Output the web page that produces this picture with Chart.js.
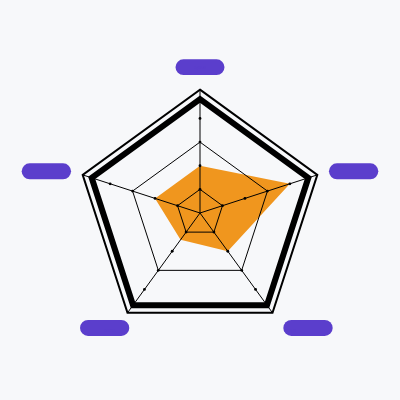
<!DOCTYPE html>
<html>
<head>
<meta charset="utf-8">
<script src="https://cdn.jsdelivr.net/npm/chart.js@4"></script>
<style>
  html, body { margin: 0; padding: 0; background: #f7f8fa; }
  #chart { display: block; }
</style>
</head>
<body>
<canvas id="chart" width="400" height="400"></canvas>
<script>
// axis names (hidden under the pills) and the one series
const labels = ['Speed', 'Power', 'Range', 'Skill', 'Armor'];
const values = [2, 4, 2, 1.4, 2];

// radial levels: rings, plus the dots along each spoke
const ringLevels = [0, 1, 2, 3, 4, 4.82, 5.22];
const dotLevels = [1, 2, 3, 4];

// ring widths, one per ring level (0 = not drawn)
const ringWidths = [0, 1, 0, 1, 0, 6, 2];

// backdrop padding per label, puts each pill where the reference has it
const pillPadding = [
  {top: 5.9, bottom: 5.0, left: 18.5, right: 18.5},
  {top: 0.7, bottom: 10.5, left: 7, right: 30.3},
  {top: 8.7, bottom: 2.5, left: 0.7, right: 36.6},
  {top: 8.7, bottom: 2.5, left: 23.9, right: 13.3},
  {top: 0.7, bottom: 10.5, left: 30.3, right: 7}
];

const PURPLE = '#5b3ecc';
const ORANGE = 'rgb(240, 150, 30)';
const INK = '#000';

const spokeDots = {
  id: 'spokeDots',
  afterDraw(chart) {
    const scale = chart.scales.r;
    const ctx = chart.ctx;
    ctx.save();
    ctx.fillStyle = INK;
    labels.forEach((_, i) => {
      dotLevels.forEach(v => {
        const p = scale.getPointPositionForValue(i, v);
        ctx.beginPath();
        ctx.arc(p.x, p.y, 1.4, 0, Math.PI * 2);
        ctx.fill();
      });
    });
    ctx.restore();
  }
};

new Chart(document.getElementById('chart').getContext('2d'), {
  type: 'radar',
  data: {
    labels,
    datasets: [{
      data: values,
      backgroundColor: ORANGE,
      borderWidth: 0,
      pointRadius: 0,
      fill: true
    }]
  },
  options: {
    responsive: false,
    devicePixelRatio: 1,
    animation: false,
    layout: {padding: {left: 52, right: 52, top: 53, bottom: 51}},
    plugins: {legend: {display: false}, tooltip: {enabled: false}},
    scales: {
      r: {
        min: 0,
        max: ringLevels[ringLevels.length - 1],
        afterBuildTicks: scale => {
          scale.ticks = ringLevels.map(value => ({value}));
        },
        ticks: {display: false},
        grid: {
          z: 1, // rings and spokes sit over the fill
          color: INK,
          lineWidth: ctx => ringWidths[ctx.index] || 0
        },
        angleLines: {color: INK, lineWidth: 1},
        pointLabels: {
          color: PURPLE,
          font: {family: 'DejaVu Sans Mono', size: 4},
          padding: 19.6,
          backdropColor: PURPLE,
          borderRadius: 8,
          backdropPadding: ctx => pillPadding[ctx.index]
        }
      }
    }
  },
  plugins: [spokeDots]
});
</script>
</body>
</html>
